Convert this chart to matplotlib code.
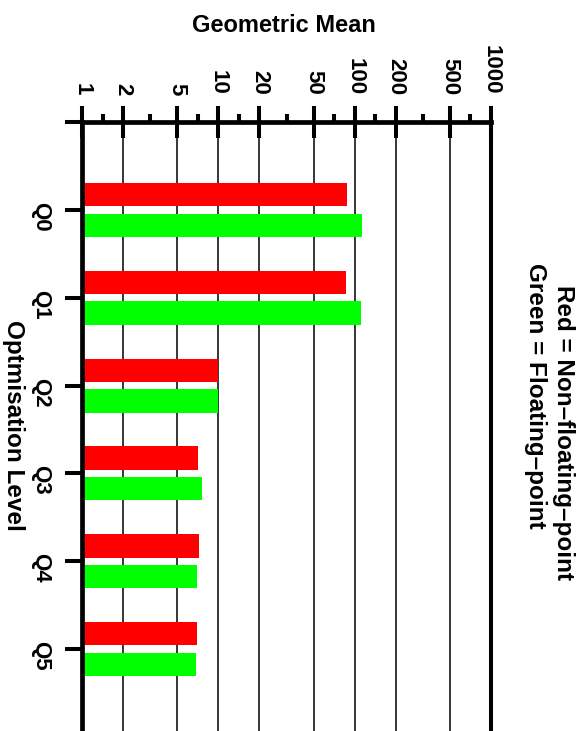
import numpy as np
import matplotlib
matplotlib.use('Agg')
import matplotlib.pyplot as plt
from matplotlib.ticker import FixedLocator, NullFormatter

# Geometric mean per optimisation level, split by benchmark type
levels = ['Q0', 'Q1', 'Q2', 'Q3', 'Q4', 'Q5']
non_float = [88, 87, 9.9, 7.1, 7.2, 6.95]
floating = [113, 112, 9.9, 7.6, 6.95, 6.85]

major_ticks = [1, 2, 5, 10, 20, 50, 100, 200, 500, 1000]

plt.rcParams['font.family'] = ['Liberation Sans', 'DejaVu Sans']
plt.rcParams['font.weight'] = 'bold'

W, H = 585, 731
fig = plt.figure(figsize=(W / 100, H / 100), dpi=100)
ax = fig.add_axes([82 / W, -6 / H, 409 / W, 615 / H])

ax.set_xscale('log')

y = np.arange(len(levels))
bar_h = 0.265
ax.barh(y - 0.175, non_float, height=bar_h, color='#ff0000', zorder=2)
ax.barh(y + 0.175, floating, height=bar_h, color='#00ff00', zorder=2)

ax.set_xlim(1, 1000)
ax.set_ylim(6, -1)

# log axis on top, one minor tick halfway (in log) between majors
ax.xaxis.set_ticks_position('top')
ax.xaxis.set_major_locator(FixedLocator(major_ticks))
ax.set_xticklabels([str(t) for t in major_ticks], rotation=-90, fontsize=16)
minor = [np.sqrt(a * b) for a, b in zip(major_ticks[:-1], major_ticks[1:])]
ax.xaxis.set_minor_locator(FixedLocator(minor))
ax.xaxis.set_minor_formatter(NullFormatter())
ax.tick_params(axis='x', which='major', direction='inout', length=23, width=2.9, pad=8)
ax.tick_params(axis='x', which='minor', direction='out', length=5.5, width=2.9)

ax.set_yticks(range(-1, 7))
ax.set_yticklabels([''] + levels + [''], rotation=-90, fontsize=16)
ax.tick_params(axis='y', direction='out', length=12, width=2.9, pad=10)

ax.grid(True, axis='x', which='major', color='black', linewidth=1.1, zorder=1)
ax.set_axisbelow(True)

for side in ['top', 'left']:
    ax.spines[side].set_linewidth(3.4)
ax.spines['right'].set_linewidth(2.9)
ax.spines['bottom'].set_visible(False)

fig.text(284 / W, 1 - 26 / H, 'Geometric Mean', ha='center', va='center', fontsize=17)
fig.text(13 / W, 1 - 425 / H, 'Optmisation Level', rotation=-90,
         ha='center', va='center', fontsize=17.5)
fig.text(563 / W, 1 - 285 / H, 'Red = Non\u2013floating\u2013point', rotation=-90,
         ha='center', va='top', fontsize=17.5)
fig.text(535 / W, 1 - 263 / H, 'Green = Floating\u2013point', rotation=-90,
         ha='center', va='top', fontsize=17.5)

fig.savefig('out.png', dpi=100)
